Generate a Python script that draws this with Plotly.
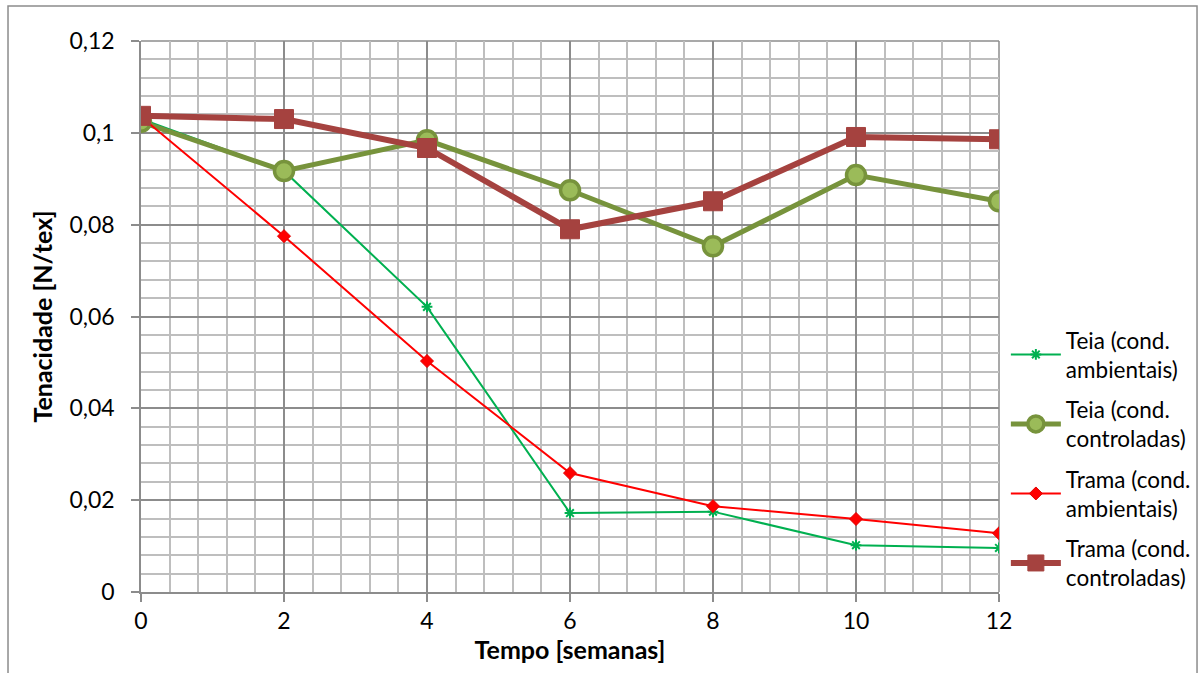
import plotly.graph_objects as go

# Semanas de exposição
semanas = [0, 2, 4, 6, 8, 10, 12]

# Tenacidade [N/tex] por série
teia_ambientais = [0.1030, 0.0917, 0.0621, 0.0172, 0.0175, 0.0102, 0.0096]
teia_controladas = [0.1024, 0.0917, 0.0984, 0.0875, 0.0753, 0.0908, 0.0851]
trama_ambientais = [0.1035, 0.0775, 0.0503, 0.0259, 0.0187, 0.0159, 0.0128]
trama_controladas = [0.1037, 0.1030, 0.0967, 0.0790, 0.0851, 0.0991, 0.0986]

y_ticks = [0, 0.02, 0.04, 0.06, 0.08, 0.1, 0.12]
y_tick_labels = ["0", "0,02", "0,04", "0,06", "0,08", "0,1", "0,12"]
x_ticks = [0, 2, 4, 6, 8, 10, 12]

FONT = "Lato"
TICK_SIZE = 23
TEXT_SIZE = 22.5
TITLE_SIZE = 25

fig = go.Figure()

fig.add_trace(go.Scatter(
    x=semanas, y=teia_ambientais, mode="lines+markers",
    name="Teia (cond.<br>ambientais)", legendgroup="a",
    line=dict(color="#00B050", width=2),
    marker=dict(symbol="asterisk-open", size=9,
                line=dict(color="#00B050", width=2)),
))
fig.add_trace(go.Scatter(
    x=semanas, y=teia_controladas, mode="lines+markers",
    name="Teia (cond.<br>controladas)", legendgroup="b",
    line=dict(color="#77933C", width=5),
    marker=dict(symbol="circle", size=19, color="#9BBB59",
                line=dict(color="#77933C", width=3.5)),
))
fig.add_trace(go.Scatter(
    x=semanas, y=trama_ambientais, mode="lines+markers",
    name="Trama (cond.<br>ambientais)", legendgroup="c",
    line=dict(color="#FF0000", width=2),
    marker=dict(symbol="diamond", size=10, color="#FF0000",
                line=dict(color="#E00000", width=1)),
))
fig.add_trace(go.Scatter(
    x=semanas, y=trama_controladas, mode="lines+markers",
    name="Trama (cond.<br>controladas)", legendgroup="d",
    line=dict(color="#A5423F", width=6),
    marker=dict(symbol="square", size=19, color="#A5423F",
                line=dict(color="#A5423F", width=1)),
))

# Moldura externa do gráfico
fig.add_shape(type="rect", xref="paper", yref="paper",
              x0=-0.155, x1=1.2308, y0=-0.17, y1=1.0635,
              line=dict(color="#8C8C8C", width=1.5), layer="below")

fig.update_layout(
    width=1202, height=673,
    margin=dict(l=141, r=203, t=41, b=81, autoexpand=False),
    paper_bgcolor="white", plot_bgcolor="white",
    font=dict(family=FONT, size=TEXT_SIZE, color="#000000"),
    showlegend=True,
    legend=dict(
        x=1.008, y=0.496, xanchor="left", yanchor="top",
        traceorder="grouped", tracegroupgap=8,
        itemwidth=50, font=dict(family=FONT, size=TEXT_SIZE),
        bgcolor="rgba(0,0,0,0)",
    ),
    xaxis=dict(
        range=[0, 12], tickvals=x_ticks,
        showgrid=True, gridcolor="#8C8C8C", gridwidth=1.5,
        minor=dict(dtick=0.4, showgrid=True, gridcolor="#BEBEBE",
                   gridwidth=1.5, ticks=""),
        showline=True, linecolor="#8C8C8C", linewidth=1.5,
        ticks="outside", ticklen=8, tickcolor="#8C8C8C", tickwidth=1.5,
        zeroline=False, mirror=False,
        title=dict(text="<b>Tempo [semanas]</b>", standoff=2,
                   font=dict(family=FONT, size=TITLE_SIZE)),
        tickfont=dict(family=FONT, size=TICK_SIZE),
    ),
    yaxis=dict(
        range=[0, 0.12], tickvals=y_ticks, ticktext=y_tick_labels,
        showgrid=True, gridcolor="#8C8C8C", gridwidth=1.5,
        minor=dict(dtick=0.004, showgrid=True, gridcolor="#BEBEBE",
                   gridwidth=1.5, ticks=""),
        showline=True, linecolor="#8C8C8C", linewidth=1.5,
        ticks="outside", ticklen=8, tickcolor="#8C8C8C", tickwidth=1.5,
        ticklabelstandoff=12,
        zeroline=False,
        title=dict(text="<b>Tenacidade [N/tex]</b>", standoff=10,
                   font=dict(family=FONT, size=TITLE_SIZE)),
        tickfont=dict(family=FONT, size=TICK_SIZE),
    ),
)

# Linhas de grade do topo e da direita da área de plotagem
fig.add_shape(type="line", xref="paper", yref="paper", x0=0, x1=1, y0=1, y1=1,
              line=dict(color="#8C8C8C", width=1.5), layer="below")
fig.add_shape(type="line", xref="paper", yref="paper", x0=1, x1=1, y0=0, y1=1,
              line=dict(color="#8C8C8C", width=1.5), layer="below")

fig.write_html("out.html")
